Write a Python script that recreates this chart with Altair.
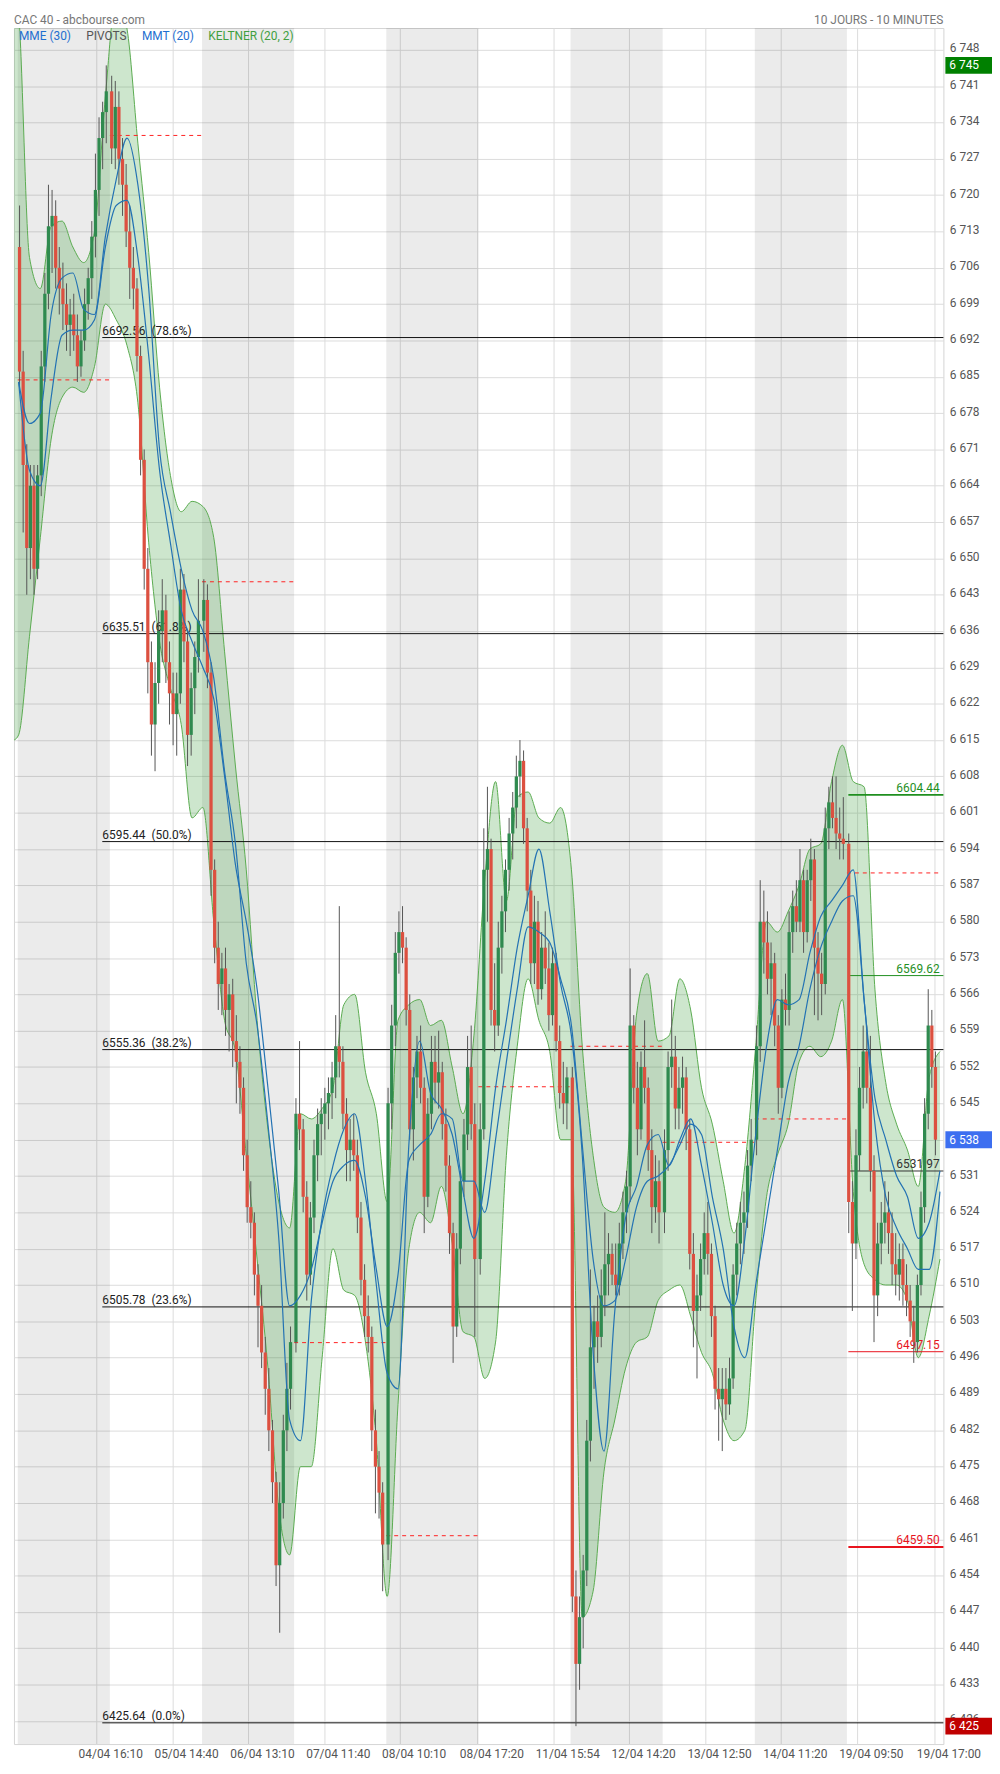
import altair as alt
import pandas as pd

FONT = "Roboto"

TITLE_LEFT = "CAC 40 - abcbourse.com"
TITLE_RIGHT = "10 JOURS - 10 MINUTES"
LEGEND_TEXT = ["MME (30)", "PIVOTS", "MMT (20)", "KELTNER (20, 2)"]
LEGEND_COLOR = ["#1f6fd0", "#555555", "#1f6fd0", "#3f9f3f"]

DAYS = ["04/04", "05/04", "06/04", "07/04", "08/04", "11/04", "12/04", "13/04", "14/04", "19/04"]

X_TICK_POS = [43, 85, 127, 169, 211, 254, 296, 338, 380, 422, 464, 507]
X_TICK_LABELS = ["04/04 16:10", "05/04 14:40", "06/04 13:10", "07/04 11:40", "08/04 10:10",
                 "08/04 17:20", "11/04 15:54", "12/04 14:20", "13/04 12:50", "14/04 11:20",
                 "19/04 09:50", "19/04 17:00"]
Y_TICKS = [6426, 6433, 6440, 6447, 6454, 6461, 6468, 6475, 6482, 6489, 6496, 6503, 6510,
           6517, 6524, 6531, 6538, 6545, 6552, 6559, 6566, 6573, 6580, 6587, 6594, 6601,
           6608, 6615, 6622, 6629, 6636, 6643, 6650, 6657, 6664, 6671, 6678, 6685, 6692,
           6699, 6706, 6713, 6720, 6727, 6734, 6741, 6748]

# 20-minute candles, 25 per day
OPEN = [
 6710,6686,6668,6652,6664,6648,6666,6687,6701,6714,6716,6706,6702,6699,6695,6697,6693,6687,6692,6699,6704,6712,6721,6731,6736,
 6740,6729,6737,6727,6722,6713,6706,6702,6689,6669,6648,6630,6618,6626,6636,6640,6630,6624,6620,6624,6644,6634,6616,6625,6631,
 6638,6642,6628,6590,6575,6568,6571,6563,6566,6557,6553,6548,6535,6525,6522,6512,6506,6497,6490,6482,6472,6456,6468,6482,6490,
 6499,6543,6540,6527,6512,6523,6535,6541,6543,6545,6547,6550,6556,6553,6543,6536,6538,6535,6523,6511,6504,6500,6482,6475,6470,
 6460,6545,6560,6574,6578,6575,6563,6540,6550,6555,6548,6527,6543,6553,6549,6551,6541,6533,6520,6502,6517,6530,6539,6552,6541,
 6515,6540,6590,6594,6563,6560,6575,6582,6590,6597,6602,6608,6611,6598,6586,6572,6580,6567,6575,6571,6562,6572,6557,6547,6545,
 6550,6450,6437,6446,6455,6480,6498,6503,6500,6508,6514,6516,6512,6510,6518,6524,6529,6560,6548,6540,6552,6548,6536,6525,6530,
 6524,6536,6552,6554,6544,6548,6550,6540,6516,6505,6508,6515,6520,6516,6504,6490,6488,6490,6487,6492,6512,6518,6522,6524,6533,
 6538,6556,6580,6576,6569,6572,6560,6548,6565,6563,6578,6583,6580,6588,6578,6588,6592,6575,6570,6568,6598,6603,6600,6597,6596,
 6595,6526,6518,6535,6548,6555,6548,6532,6508,6518,6522,6524,6520,6514,6512,6515,6510,6507,6503,6499,6510,6525,6543,6560,6552]
HIGH = [
 6718,6690,6672,6668,6668,6668,6690,6705,6722,6721,6719,6710,6707,6703,6700,6701,6697,6694,6702,6706,6715,6728,6735,6738,6745,
 6743,6742,6740,6731,6726,6718,6710,6704,6691,6671,6652,6634,6630,6640,6646,6643,6634,6628,6628,6648,6647,6636,6628,6634,6646,
 6646,6645,6630,6592,6580,6574,6575,6568,6569,6562,6556,6550,6538,6530,6524,6514,6510,6500,6494,6484,6474,6472,6485,6495,6502,
 6546,6557,6542,6530,6526,6538,6544,6546,6548,6550,6553,6562,6583,6556,6546,6542,6543,6538,6526,6514,6508,6502,6486,6478,6472,
 6548,6564,6578,6582,6583,6577,6566,6552,6558,6560,6550,6546,6558,6558,6559,6553,6544,6535,6522,6520,6532,6542,6558,6560,6545,
 6545,6598,6606,6596,6572,6580,6585,6592,6600,6605,6612,6615,6613,6600,6590,6585,6584,6578,6582,6576,6575,6574,6560,6553,6552,
 6552,6455,6450,6458,6484,6513,6506,6508,6513,6524,6520,6518,6518,6522,6528,6532,6571,6562,6553,6555,6561,6550,6540,6535,6534,
 6540,6555,6565,6558,6552,6554,6552,6542,6520,6512,6518,6524,6526,6518,6506,6494,6494,6494,6496,6514,6522,6526,6528,6536,6542,
 6560,6588,6586,6582,6576,6574,6562,6567,6570,6582,6586,6588,6594,6590,6590,6596,6594,6578,6574,6602,6606,6608,6608,6602,6604,
 6597,6530,6540,6552,6560,6560,6558,6535,6522,6526,6530,6528,6524,6520,6518,6518,6514,6510,6506,6512,6528,6546,6567,6563,6555]
LOW = [
 6683,6655,6643,6646,6643,6646,6662,6684,6698,6705,6702,6697,6694,6690,6689,6690,6684,6685,6690,6696,6700,6708,6716,6725,6730,
 6726,6725,6722,6716,6710,6700,6698,6686,6666,6644,6624,6612,6609,6622,6630,6626,6618,6614,6612,6622,6630,6610,6612,6620,6628,
 6632,6625,6585,6572,6563,6562,6558,6555,6552,6545,6543,6532,6522,6519,6508,6498,6494,6485,6478,6468,6452,6443,6465,6478,6486,
 6497,6536,6524,6507,6510,6520,6530,6535,6538,6540,6542,6546,6550,6540,6530,6530,6532,6520,6508,6500,6497,6478,6466,6465,6451,
 6457,6540,6556,6570,6572,6560,6538,6534,6546,6545,6520,6525,6540,6545,6544,6538,6528,6516,6495,6500,6514,6527,6536,6538,6500,
 6512,6538,6580,6560,6555,6558,6570,6578,6586,6592,6598,6604,6595,6582,6568,6568,6564,6565,6568,6559,6560,6555,6544,6541,6540,
 6447,6425,6432,6440,6452,6476,6490,6495,6498,6504,6508,6510,6508,6508,6515,6520,6526,6545,6535,6538,6545,6532,6520,6522,6518,
 6520,6532,6548,6540,6540,6543,6536,6513,6498,6492,6505,6512,6512,6500,6486,6480,6478,6484,6485,6490,6508,6514,6516,6521,6530,
 6535,6553,6570,6566,6562,6556,6543,6546,6560,6560,6574,6578,6578,6574,6576,6584,6562,6561,6562,6566,6594,6598,6594,6592,6592,
 6520,6505,6515,6532,6544,6545,6528,6499,6504,6514,6518,6516,6510,6508,6507,6506,6504,6500,6495,6497,6508,6522,6540,6548,6535]
CLOSE = [
 6686,6668,6652,6664,6648,6666,6687,6701,6714,6716,6706,6702,6699,6695,6697,6693,6687,6692,6699,6704,6712,6721,6731,6736,6740,
 6729,6737,6727,6722,6713,6706,6702,6689,6669,6648,6630,6618,6626,6636,6640,6630,6624,6620,6624,6644,6634,6616,6625,6631,6638,
 6642,6628,6590,6575,6568,6571,6563,6566,6557,6553,6548,6535,6525,6522,6512,6506,6497,6490,6482,6472,6456,6468,6482,6490,6499,
 6543,6540,6527,6512,6523,6535,6541,6543,6545,6547,6550,6556,6553,6543,6536,6538,6535,6523,6511,6504,6500,6482,6475,6470,6460,
 6545,6560,6574,6578,6575,6563,6540,6550,6555,6548,6527,6543,6553,6549,6551,6541,6533,6520,6502,6517,6530,6539,6552,6541,6515,
 6540,6590,6594,6563,6560,6575,6582,6590,6597,6602,6608,6611,6598,6586,6572,6580,6567,6575,6571,6562,6572,6557,6547,6545,6550,
 6450,6437,6446,6455,6480,6498,6503,6500,6508,6514,6516,6512,6510,6518,6524,6529,6560,6548,6540,6552,6548,6536,6525,6530,6524,
 6536,6552,6554,6544,6548,6550,6540,6516,6505,6508,6515,6520,6516,6504,6490,6488,6490,6487,6492,6512,6518,6522,6524,6533,6538,
 6556,6580,6576,6569,6572,6560,6548,6565,6563,6578,6583,6580,6588,6578,6588,6592,6575,6570,6568,6598,6603,6600,6597,6596,6595,
 6526,6518,6535,6548,6555,6548,6532,6508,6518,6522,6524,6520,6514,6512,6515,6510,6507,6503,6499,6510,6525,6543,6560,6552,6538]

# indicator samples, every 6 ten-minute slots (Keltner band also read at the left plot edge)
IND_T = list(range(0, 511, 6))
KELT_T = [-2.5] + IND_T
KELT_UP = [6760,
           6755,6708,6702,6714,6715,6710,6707,6713,6739,6758,
           6752,6730,6709,6683,6666,6659,6661,6660,6654,6632,
           6610,6590,6561,6540,6526,6521,6543,6542,6544,6548,
           6564,6566,6551,6543,6526,6561,6564,6565,6560,6561,
           6552,6543,6558,6588,6607,6584,6604,6605,6600,6599,
           6602,6590,6556,6535,6525,6524,6530,6562,6570,6557,
           6558,6569,6563,6548,6541,6530,6520,6533,6556,6580,
           6578,6582,6587,6594,6595,6607,6614,6607,6606,6567,
           6549,6541,6536,6529,6550,6555]
KELT_LO = [6615,
           6616,6635,6654,6673,6681,6683,6682,6687,6699,6696,
           6691,6680,6653,6634,6625,6618,6600,6602,6580,6561,
           6555,6535,6515,6494,6467,6458,6475,6475,6496,6517,
           6509,6508,6499,6480,6450,6487,6517,6524,6522,6529,
           6518,6501,6500,6492,6499,6535,6556,6569,6561,6555,
           6538,6538,6446,6451,6474,6484,6494,6499,6500,6507,
           6509,6510,6504,6497,6493,6484,6480,6482,6507,6527,
           6535,6541,6553,6556,6554,6557,6565,6528,6514,6511,
           6510,6510,6507,6496,6504,6515]
MME = [6684,6676,6678,6697,6704,6705,6698,6697,6712,6723,
       6731,6722,6702,6671,6659,6648,6640,6636,6627,6609,
       6595,6572,6560,6541,6519,6484,6480,6507,6523,6533,
       6540,6543,6530,6510,6493,6490,6537,6557,6547,6544,
       6539,6528,6519,6530,6548,6561,6575,6585,6594,6582,
       6568,6558,6535,6497,6478,6505,6523,6529,6537,6539,
       6533,6538,6542,6533,6522,6510,6506,6519,6539,6556,
       6565,6564,6565,6574,6581,6584,6587,6590,6565,6546,
       6538,6531,6527,6519,6522,6532]
MMT = [6684,6667,6664,6681,6693,6694,6694,6696,6710,6718,
       6719,6708,6689,6667,6653,6640,6634,6629,6623,6608,
       6591,6580,6567,6548,6528,6506,6508,6513,6522,6530,
       6533,6534,6527,6513,6502,6512,6534,6537,6539,6543,
       6542,6530,6530,6524,6538,6553,6567,6579,6578,6576,
       6569,6560,6537,6515,6506,6507,6515,6525,6530,6531,
       6533,6537,6541,6539,6527,6517,6502,6496,6510,6523,
       6536,6549,6556,6567,6575,6580,6584,6585,6565,6541,
       6527,6521,6517,6513,6513,6528]

FIB_VALUES = [6692.56, 6635.51, 6595.44, 6555.36, 6505.78, 6425.64]
FIB_PCT = ["78.6%", "61.8%", "50.0%", "38.2%", "23.6%", "0.0%"]

DAY_PIVOT = [6684.4, 6731.5, 6645.5, 6498.9, 6461.7, 6548.2, 6556.0, 6537.5, 6542.0, 6589.4]

LEVEL_VALUES = [6604.44, 6569.62, 6531.97, 6497.15, 6459.50]
LEVEL_LABELS = ["6604.44", "6569.62", "6531.97", "6497.15", "6459.50"]
LEVEL_COLORS = ["#1f8f1f", "#1f8f1f", "#333333", "#e8141e", "#e8141e"]
LEVEL_WIDTHS = [2, 1, 1, 1, 2]

BADGE_VALUES = [6745, 6538, 6425]
BADGE_LABELS = ["6 745", "6 538", "6 425"]
BADGE_COLORS = ["#008000", "#3d6ff0", "#c00000"]

# ---------------- layout -----------------
W, H = 937, 1730
X_MIN, X_MAX = -2.6, 511.9
Y_MIN, Y_MAX = 6421.55, 6752.2
SLOTS = 51          # 10-minute slots per day
PER_DAY = 25        # candles per day
HALF_BODY = 0.9     # half body width, in 10-minute slots

xs = alt.Scale(domain=[X_MIN, X_MAX], nice=False, zero=False)
ys = alt.Scale(domain=[Y_MIN, Y_MAX], nice=False, zero=False)

pos_js = "[" + ",".join(str(v) for v in X_TICK_POS) + "]"
lab_js = "[" + ",".join("'" + s + "'" for s in X_TICK_LABELS) + "]"
xaxis = alt.Axis(values=X_TICK_POS, labelExpr=f"{lab_js}[indexof({pos_js}, datum.value)]",
                 orient="bottom", grid=True, gridColor="#dcdcdc", domain=False, ticks=False,
                 labelOffset=14, labelPadding=5, labelFontSize=12, labelColor="#555555",
                 labelFont=FONT, labelOverlap=False, labelFlush=False, title=None, zindex=0)
yaxis = alt.Axis(values=Y_TICKS, labelExpr="replace(format(datum.value, ',d'), ',', ' ')",
                 orient="right", grid=True, gridColor="#dcdcdc", domain=False, ticks=False,
                 labelPadding=6, labelFontSize=12, labelColor="#555555", labelFont=FONT,
                 labelOverlap=False, labelOffset=-2, title=None, zindex=0)


def X(f):
    return alt.X(f, type="quantitative", scale=xs, axis=xaxis, title=None)


def Y(f):
    return alt.Y(f, type="quantitative", scale=ys, axis=yaxis, title=None)


# data frames
rows = []
for i in range(len(OPEN)):
    d, k = divmod(i, PER_DAY)
    t = d * SLOTS + 2 * k + 0.5
    o, c = OPEN[i], CLOSE[i]
    rows.append(dict(t=t, t0=t - HALF_BODY, t1=t + HALF_BODY, o=o, h=HIGH[i], l=LOW[i], c=c,
                     col="#2f8a4f" if c >= o else "#dc5040"))
candles = pd.DataFrame(rows)

ind = pd.DataFrame(dict(t=IND_T, mme=MME, mmt=MMT))
kelt = pd.DataFrame(dict(t=KELT_T, up=KELT_UP, lo=KELT_LO))

bands = pd.DataFrame([dict(x0=d * SLOTS - 0.5, x1=d * SLOTS + SLOTS - 0.5)
                      for d in range(len(DAYS)) if d % 2 == 0])

fib = pd.DataFrame(dict(v=FIB_VALUES,
                        label=[f"{v:.2f}\u00a0\u00a0({p})" for v, p in zip(FIB_VALUES, FIB_PCT)],
                        x0=[46.3] * len(FIB_VALUES), x1=[X_MAX] * len(FIB_VALUES)))

piv = pd.DataFrame(dict(v=DAY_PIVOT,
                        x0=[d * SLOTS - 0.5 for d in range(len(DAYS))],
                        x1=[d * SLOTS + SLOTS - 0.5 for d in range(len(DAYS))]))

last_day_start = (len(DAYS) - 1) * SLOTS + 0.3
lev = pd.DataFrame(dict(v=LEVEL_VALUES, label=LEVEL_LABELS, col=LEVEL_COLORS, w=LEVEL_WIDTHS,
                        x0=[last_day_start] * 5, x1=[X_MAX] * 5, xt=[509.8] * 5))

badges = pd.DataFrame(dict(v=BADGE_VALUES, label=BADGE_LABELS, col=BADGE_COLORS))

# ---------------- layers -----------------
band_layer = alt.Chart(bands).mark_rect(color="#000000", opacity=0.078).encode(
    x=X("x0"), x2="x1", y=alt.value(0), y2=alt.value(H))

kelt_area = alt.Chart(kelt).mark_area(color="#3f9f3f", opacity=0.26, interpolate="monotone",
                                      clip=True).encode(x=X("t"), y=Y("up"), y2="lo")
kelt_up = alt.Chart(kelt).mark_line(color="#5aab50", strokeWidth=1, interpolate="monotone",
                                    clip=True).encode(x=X("t"), y=Y("up"))
kelt_lo = alt.Chart(kelt).mark_line(color="#5aab50", strokeWidth=1, interpolate="monotone",
                                    clip=True).encode(x=X("t"), y=Y("lo"))

fib_rule = alt.Chart(fib).mark_rule(color="#111111", strokeWidth=1).encode(
    x=X("x0"), x2="x1", y=Y("v"))
fib_text = alt.Chart(fib).mark_text(align="left", baseline="middle", dy=-7, fontSize=12,
                                    font=FONT, color="#222222").encode(
    x=X("x0"), y=Y("v"), text="label:N")

piv_rule = alt.Chart(piv).mark_rule(color="#ff2020", strokeWidth=1, strokeDash=[4, 4]).encode(
    x=X("x0"), x2="x1", y=Y("v"))

lev_rule = alt.Chart(lev).mark_rule().encode(
    x=X("x0"), x2="x1", y=Y("v"),
    color=alt.Color("col:N", scale=None), strokeWidth=alt.StrokeWidth("w:Q", scale=None))
lev_text = alt.Chart(lev).mark_text(align="right", baseline="middle", dy=-7, fontSize=12,
                                    font=FONT).encode(
    x=X("xt"), y=Y("v"), text="label:N", color=alt.Color("col:N", scale=None))

wicks = alt.Chart(candles).mark_rule(color="#555555", strokeWidth=1).encode(
    x=X("t"), y=Y("l"), y2="h")
bodies = alt.Chart(candles).mark_rect().encode(
    x=X("t0"), x2="t1", y=Y("o"), y2="c", color=alt.Color("col:N", scale=None))

mme_line = alt.Chart(ind).mark_line(color="#2372b3", strokeWidth=1.2, interpolate="monotone",
                                    clip=True).encode(x=X("t"), y=Y("mme"))
mmt_line = alt.Chart(ind).mark_line(color="#2372b3", strokeWidth=1.2, interpolate="monotone",
                                    clip=True).encode(x=X("t"), y=Y("mmt"))

badge_rect = alt.Chart(badges).mark_rect(yOffset=-8.5, y2Offset=8.5).encode(
    x=alt.value(W + 2), x2=alt.value(W + 49), y=Y("v"), y2="v",
    color=alt.Color("col:N", scale=None))
badge_text = alt.Chart(badges).mark_text(align="left", baseline="middle", fontSize=12,
                                         font=FONT, color="white").encode(
    x=alt.value(W + 6), y=Y("v"), text="label:N")

head_l = alt.Chart(pd.DataFrame({"s": [TITLE_LEFT]})).mark_text(
    align="left", baseline="top", fontSize=12, font=FONT, color="#777777").encode(
    x=alt.value(0), y=alt.value(-13), text="s:N")
head_r = alt.Chart(pd.DataFrame({"s": [TITLE_RIGHT]})).mark_text(
    align="right", baseline="top", fontSize=12, font=FONT, color="#777777").encode(
    x=alt.value(W), y=alt.value(-13), text="s:N")

legend_x = [5, 73, 129, 196]
legend_layers = []
for txt, col, lx in zip(LEGEND_TEXT, LEGEND_COLOR, legend_x):
    legend_layers.append(
        alt.Chart(pd.DataFrame({"s": [txt]})).mark_text(
            align="left", baseline="middle", fontSize=12, font=FONT, color=col).encode(
            x=alt.value(lx), y=alt.value(8), text="s:N"))

chart = alt.layer(
    band_layer, kelt_area, kelt_up, kelt_lo, fib_rule, fib_text, piv_rule, lev_rule, lev_text,
    wicks, bodies, mme_line, mmt_line, badge_rect, badge_text, head_l, head_r, *legend_layers
).properties(
    width=W, height=H,
    autosize=alt.AutoSizeParams(type="none"),
    padding={"left": 6, "top": 13, "right": 49, "bottom": 23},
    background="white",
).configure_view(stroke="#d4d4d4")

chart.save("out.html", embed_options={"renderer": "svg", "actions": False})
